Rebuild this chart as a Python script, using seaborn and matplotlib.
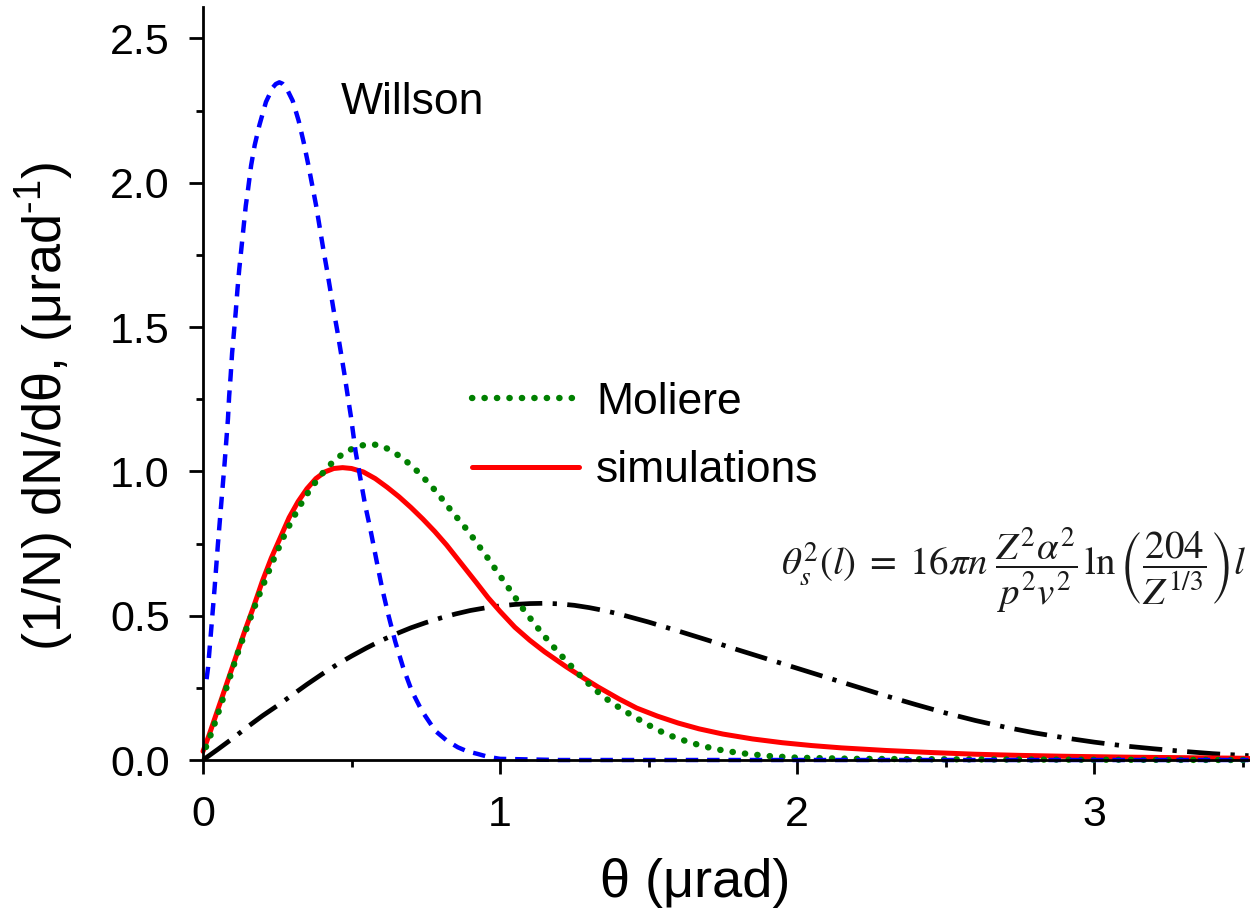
import matplotlib
matplotlib.use("Agg")
import matplotlib.pyplot as plt
import seaborn as sns
from matplotlib.ticker import MultipleLocator
from matplotlib.lines import Line2D

# ---- data ----
willson_x = [0.012, 0.017, 0.028, 0.039, 0.050, 0.061, 0.073, 0.084, 0.088, 0.093, 0.098, 0.104,
             0.110, 0.116, 0.122, 0.129, 0.136, 0.144, 0.152, 0.162, 0.174, 0.190, 0.212, 0.235,
             0.245, 0.257, 0.268, 0.280, 0.302, 0.322, 0.339, 0.354, 0.368, 0.381, 0.393, 0.405,
             0.417, 0.429, 0.441, 0.453, 0.465, 0.476, 0.487, 0.498, 0.514, 0.532, 0.546, 0.563,
             0.585, 0.603, 0.624, 0.647, 0.674, 0.703, 0.737, 0.782, 0.820, 0.858, 0.890, 0.925,
             0.960, 1.000, 1.200, 2.000, 3.520]
willson_y = [0.280, 0.320, 0.457, 0.595, 0.745, 0.883, 1.032, 1.182, 1.260, 1.330, 1.410, 1.480,
             1.550, 1.630, 1.700, 1.770, 1.840, 1.920, 1.980, 2.060, 2.130, 2.200, 2.280, 2.330,
             2.342, 2.348, 2.343, 2.330, 2.284, 2.215, 2.140, 2.065, 1.990, 1.920, 1.845, 1.770,
             1.700, 1.626, 1.551, 1.482, 1.407, 1.338, 1.263, 1.190, 1.067, 0.963, 0.883, 0.802,
             0.687, 0.595, 0.503, 0.411, 0.320, 0.239, 0.170, 0.101, 0.068, 0.044, 0.030, 0.021,
             0.011, 0.004, 0.000, 0.000, 0.000]

moliere_x = [0.01, 0.03, 0.06, 0.09, 0.12, 0.15, 0.18, 0.21, 0.24, 0.27, 0.30, 0.33, 0.36, 0.39,
             0.42, 0.45, 0.48, 0.51, 0.54, 0.57, 0.60, 0.63, 0.66, 0.69, 0.72, 0.75, 0.78, 0.81,
             0.84, 0.87, 0.90, 0.93, 0.96, 0.99, 1.02, 1.05, 1.08, 1.11, 1.14, 1.17, 1.20, 1.23,
             1.26, 1.29, 1.32, 1.35, 1.38, 1.41, 1.44, 1.48, 1.53, 1.58, 1.63, 1.68, 1.73, 1.80,
             1.90, 2.00, 2.20, 2.60, 3.00, 3.52]
moliere_y = [0.045, 0.098, 0.190, 0.285, 0.380, 0.465, 0.548, 0.625, 0.700, 0.770, 0.832, 0.887,
             0.937, 0.978, 1.015, 1.045, 1.067, 1.082, 1.091, 1.094, 1.089, 1.074, 1.054, 1.030,
             1.002, 0.970, 0.936, 0.898, 0.858, 0.822, 0.783, 0.740, 0.698, 0.653, 0.609, 0.565,
             0.520, 0.480, 0.441, 0.404, 0.369, 0.336, 0.303, 0.272, 0.244, 0.218, 0.196, 0.176,
             0.157, 0.133, 0.104, 0.082, 0.064, 0.049, 0.037, 0.025, 0.014, 0.008, 0.004, 0.002,
             0.001, 0.000]

sim_x = [0.00, 0.02, 0.05, 0.08, 0.11, 0.14, 0.17, 0.20, 0.23, 0.26, 0.29, 0.32, 0.35, 0.38,
         0.41, 0.44, 0.47, 0.50, 0.54, 0.58, 0.62, 0.66, 0.70, 0.74, 0.78, 0.82, 0.87, 0.92,
         0.96, 1.00, 1.05, 1.10, 1.15, 1.22, 1.28, 1.33, 1.40, 1.46, 1.53, 1.60, 1.67, 1.75,
         1.85, 1.95, 2.05, 2.15, 2.30, 2.45, 2.60, 2.75, 2.90, 3.10, 3.30, 3.52]
sim_y = [0.030, 0.085, 0.175, 0.265, 0.355, 0.445, 0.530, 0.620, 0.700, 0.770, 0.840, 0.895,
         0.940, 0.975, 0.998, 1.010, 1.013, 1.010, 0.998, 0.975, 0.945, 0.912, 0.875, 0.835,
         0.792, 0.745, 0.680, 0.615, 0.562, 0.515, 0.460, 0.415, 0.375, 0.325, 0.285, 0.253,
         0.212, 0.180, 0.152, 0.128, 0.108, 0.090, 0.073, 0.060, 0.050, 0.042, 0.033, 0.026,
         0.020, 0.016, 0.013, 0.010, 0.008, 0.006]

gauss_x = [0.00, 0.05, 0.10, 0.15, 0.20, 0.25, 0.30, 0.35, 0.40, 0.45, 0.50, 0.55, 0.60, 0.65,
           0.70, 0.75, 0.80, 0.85, 0.90, 0.95, 1.00, 1.05, 1.10, 1.15, 1.20, 1.25, 1.30, 1.35,
           1.40, 1.50, 1.60, 1.70, 1.80, 1.90, 2.00, 2.10, 2.20, 2.30, 2.40, 2.50, 2.60, 2.70,
           2.80, 2.90, 3.00, 3.10, 3.20, 3.30, 3.40, 3.52]
gauss_y = [0.000, 0.037, 0.075, 0.115, 0.153, 0.188, 0.225, 0.262, 0.297, 0.330, 0.360, 0.388,
           0.414, 0.437, 0.458, 0.476, 0.492, 0.506, 0.518, 0.527, 0.534, 0.539, 0.542, 0.543,
           0.541, 0.536, 0.528, 0.518, 0.506, 0.478, 0.447, 0.415, 0.382, 0.350, 0.318, 0.286,
           0.254, 0.222, 0.192, 0.163, 0.137, 0.114, 0.094, 0.077, 0.062, 0.049, 0.039, 0.030,
           0.022, 0.015]

x_ticks = [0, 1, 2, 3]
y_ticks = [0.0, 0.5, 1.0, 1.5, 2.0, 2.5]
y_ticklabels = ["0.0", "0.5", "1.0", "1.5", "2.0", "2.5"]

# ---- style ----
sns.set_theme(style="ticks")
plt.rcParams["font.family"] = ["Liberation Sans", "DejaVu Sans"]
plt.rcParams["mathtext.fontset"] = "custom"
plt.rcParams["mathtext.rm"] = "Liberation Sans"
plt.rcParams["mathtext.it"] = "Liberation Sans:italic"
plt.rcParams["text.color"] = "black"
plt.rcParams["axes.labelcolor"] = "black"

fig = plt.figure(figsize=(12.5, 9.17), dpi=100)
ax = fig.add_axes([0.1624, 0.1712, 0.8376, 0.8215])

# dash-dot curve
sns.lineplot(x=gauss_x, y=gauss_y, ax=ax, color="black", linewidth=3.4,
             sort=False, estimator=None)
l = ax.lines[-1]
l.set_dashes((7.0, 2.2, 0.9, 2.2))
l.set_clip_on(False)

# simulations
sns.lineplot(x=sim_x, y=sim_y, ax=ax, color="#ff0000", linewidth=3.6,
             sort=False, estimator=None)
ax.lines[-1].set_clip_on(False)

# Moliere
sns.lineplot(x=moliere_x, y=moliere_y, ax=ax, color="#008000", linewidth=4.6,
             sort=False, estimator=None)
l = ax.lines[-1]
l.set_dashes((0.05, 1.9))
l.set_dash_capstyle("round")
l.set_clip_on(False)

# Willson
sns.lineplot(x=willson_x, y=willson_y, ax=ax, color="#0000ff", linewidth=3.2,
             sort=False, estimator=None)
l = ax.lines[-1]
l.set_dashes((2.8, 2.0))
l.set_clip_on(False)

ax.set_xlim(0, 3.525)
ax.set_ylim(0, 2.61)
ax.set_xticks(x_ticks)
ax.set_xticklabels([str(v) for v in x_ticks])
ax.set_yticks(y_ticks)
ax.set_yticklabels(y_ticklabels)
ax.xaxis.set_minor_locator(MultipleLocator(0.5))
ax.yaxis.set_minor_locator(MultipleLocator(0.25))

sns.despine(ax=ax)
for s in ["left", "bottom"]:
    ax.spines[s].set_linewidth(2.0)
    ax.spines[s].set_color("black")

ax.tick_params(which="major", direction="out", length=10, width=2.0, labelsize=31,
               colors="black")
ax.tick_params(axis="y", which="major", pad=14)
ax.tick_params(axis="x", which="major", pad=15)
ax.tick_params(which="minor", direction="out", length=5, width=2.0, colors="black")

ax.set_xlabel("θ (μrad)", fontsize=39)
ax.set_ylabel(r"(1/N) dN/dθ, (μrad$^{\mathregular{\text{-}1}}$)", fontsize=39)
ax.xaxis.set_label_coords(0.47, -0.130)
ax.yaxis.set_label_coords(-0.121, 0.47)

ax.text(0.465, 2.239, "Willson", fontsize=32, ha="left", va="baseline")

ax.text(1.946, 0.657,
        r"$\theta_s^2(l)\;=\;16\pi n\;\dfrac{Z^2\alpha^2}{p^2v^2}\,\ln\left(\dfrac{204}{Z^{1/3}}\right)l$",
        fontsize=28, ha="left", va="center", color="#1a1a1a", math_fontfamily="stix")

h_mol = Line2D([], [], color="#008000", linewidth=4.6, dashes=(0.05, 1.9),
               dash_capstyle="round")
h_sim = Line2D([], [], color="#ff0000", linewidth=3.6)
ax.legend([h_mol, h_sim], ["Moliere", "simulations"], loc="upper left",
          bbox_to_anchor=(0.257, 0.502), frameon=False, fontsize=32,
          handlelength=2.4, handletextpad=0.39, labelspacing=0.62,
          borderpad=0, borderaxespad=0)

fig.savefig("out.png", dpi=100)
